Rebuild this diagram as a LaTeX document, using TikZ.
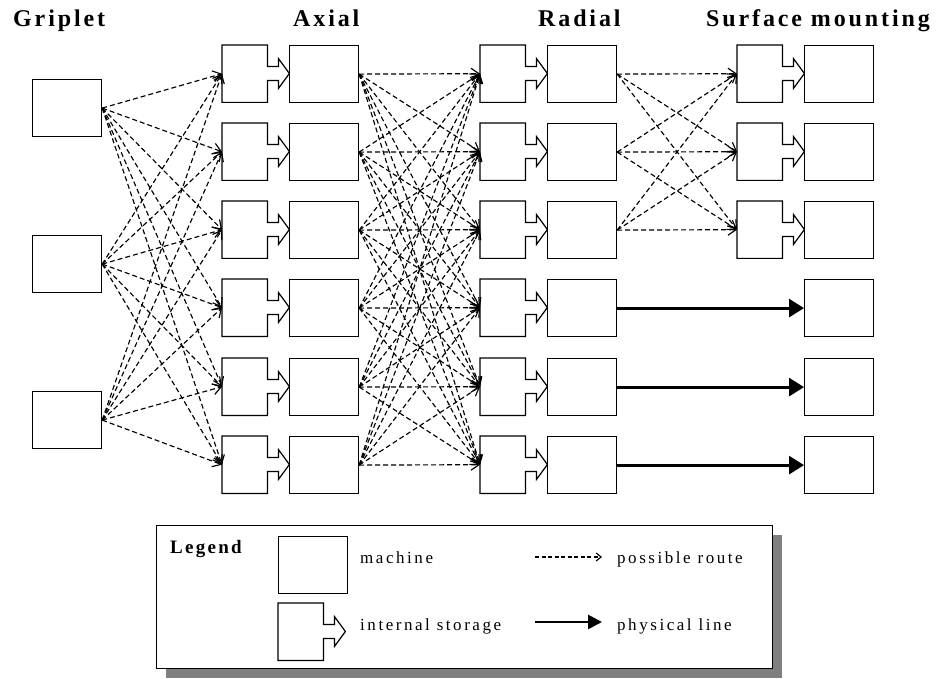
\documentclass[tikz,border=0pt]{standalone}
\usepackage{fontspec}
\setmainfont{Liberation Serif}
\newfontfamily\hdfont[LetterSpace=12]{Liberation Serif}
\newfontfamily\lgfont[LetterSpace=15]{Liberation Serif}
\newfontfamily\lghfont[LetterSpace=12]{Liberation Serif}
\usetikzlibrary{arrows.meta}
\definecolor{shadowgray}{RGB}{128,128,128}
\tikzset{
  mach/.style={draw, line width=1.2pt, minimum width=69pt, minimum height=57pt, inner sep=0pt, anchor=north west},
  stgnode/.style={inner sep=0pt, minimum width=45pt, minimum height=57pt, anchor=north west},
  stgline/.style={line width=1.2pt, line join=miter},
  route/.style={dash pattern=on 5pt off 3pt, line width=1.15pt, -{Straight Barb[length=8pt,width=11pt]}},
  legroute/.style={dash pattern=on 4pt off 2.5pt, line width=1.1pt, -{Straight Barb[length=5pt,width=8pt]}},
  phys/.style={line width=2.8pt, -{Triangle[length=15pt,width=18pt]}},
  physleg/.style={line width=2.8pt, -{Triangle[length=14pt,width=14pt]}},
  hd/.style={anchor=base west, inner sep=0pt, font=\hdfont\bfseries\fontsize{24}{28}\selectfont},
  lg/.style={anchor=base west, inner sep=0pt, font=\lgfont\fontsize{17}{20}\selectfont},
  lgh/.style={anchor=base west, inner sep=0pt, font=\lghfont\bfseries\fontsize{19}{22}\selectfont},
}
\newcommand\stgbox[3]{%
  \node[stgnode] (#1) at (#2,#3) {};
  \draw[stgline] (#1.north west) -- (#1.north east) -- ++(0,21.5) -- ++(11,0) -- ++(0,-8)
    -- ++(11,15) -- ++(-11,15) -- ++(0,-8) -- ++(-11,0) -- (#1.south east) -- (#1.south west) -- cycle;}
\begin{document}
\begin{tikzpicture}[x=1pt,y=-1pt]
\useasboundingbox (0,0) rectangle (940,679);
% headers
\node[hd] (hg) at (13,27) {Griplet};
\node[hd] (ha) at (293,27) {Axial};
\node[hd] (hr) at (538,27) {Radial};
\node[hd] (hs) at (706,27) {Surface mounting};
% griplets
\node[mach] (g1) at (32,79) {};
\node[mach] (g2) at (32,235) {};
\node[mach] (g3) at (32,391) {};
% rows
\foreach \t [count=\i] in {45,123,201,279,358,436} {
  \stgbox{as\i}{222}{\t}
  \node[mach] (am\i) at (289,\t) {};
  \stgbox{rs\i}{480}{\t}
  \node[mach] (rm\i) at (547,\t) {};
  \node[mach] (sm\i) at (804,\t) {};
}
\foreach \t [count=\i] in {45,123,201} {
  \stgbox{ss\i}{737}{\t}
}
% routes
\foreach \g in {1,2,3} \foreach \a in {1,...,6} \draw[route] (g\g.east) -- (as\a.west);
\foreach \a in {1,...,6} \foreach \r in {1,...,6} \draw[route] (am\a.east) -- (rs\r.west);
\foreach \r in {1,2,3} \foreach \s in {1,2,3} \draw[route] (rm\r.east) -- (ss\s.west);
\foreach \r in {4,5,6} \draw[phys] (rm\r.east) -- (sm\r.west);
% legend
\node[fill=shadowgray, inner sep=0pt, minimum width=616pt, minimum height=143pt, anchor=north west] (lshadow) at (166,535) {};
\node[draw, fill=white, line width=1.2pt, inner sep=0pt, minimum width=616pt, minimum height=143pt, anchor=north west] (legend) at (156,525) {};
\node[lgh] (lgtitle) at (170,553) {Legend};
\node[mach] (lmach) at (278,536) {};
\stgbox{lstg}{278}{603}
\node[lg] (tmach) at (360,563) {machine};
\node[lg] (tstg) at (360,630) {internal storage};
\coordinate (ld1) at (535,557);
\coordinate (ld2) at (602,557);
\draw[legroute] (ld1) -- (ld2);
\coordinate (lp1) at (535,622);
\coordinate (lp2) at (602,622);
\draw[physleg] (lp1) -- (lp2);
\node[lg] (troute) at (617,563) {possible route};
\node[lg] (tphys) at (617,630) {physical line};
\end{tikzpicture}
\end{document}
